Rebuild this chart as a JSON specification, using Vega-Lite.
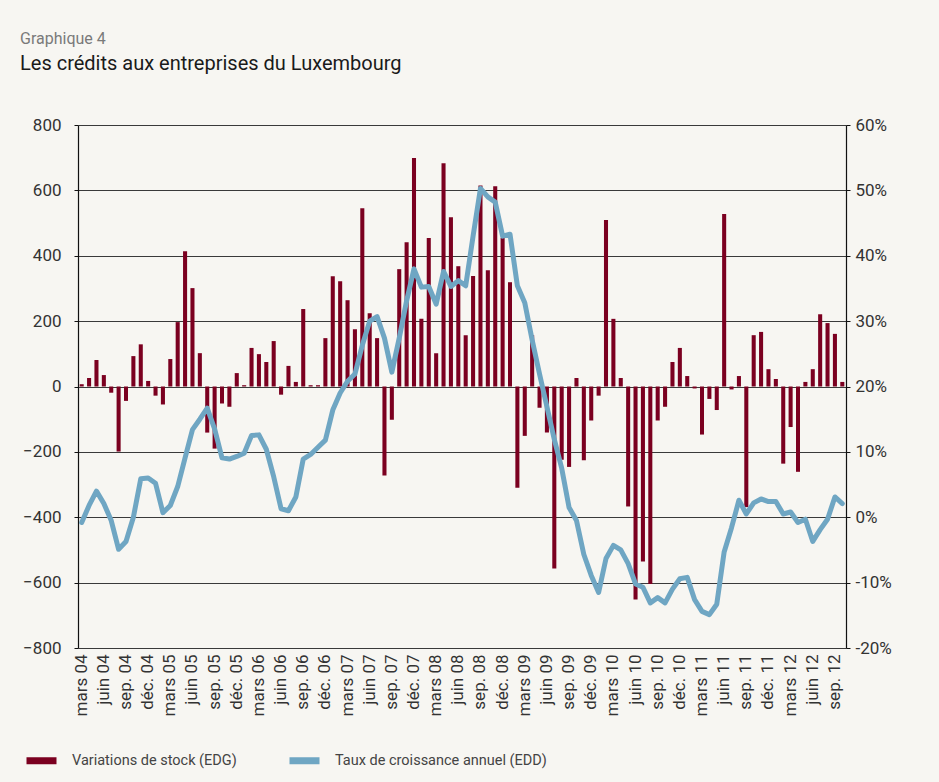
{
  "$schema": "https://vega.github.io/schema/vega-lite/v6.json",
  "width": 768,
  "height": 523,
  "autosize": {"type": "none"},
  "padding": {"left": 78, "top": 125, "right": 93, "bottom": 134},
  "background": "#f7f6f2",
  "title": {
    "text": "Graphique 4",
    "subtitle": "Les crédits aux entreprises du Luxembourg",
    "anchor": "start",
    "frame": "group",
    "dx": -58,
    "offset": 42,
    "font": "Roboto",
    "fontSize": 16,
    "fontWeight": "normal",
    "color": "#7a7a7a",
    "subtitleFont": "Roboto",
    "subtitleFontSize": 20,
    "subtitleColor": "#1a1a1a",
    "subtitlePadding": 7
  },
  "data": {
    "values": [
      {"m": "2004-03", "v": 7, "t": -0.8},
      {"m": "2004-04", "v": 26, "t": 1.8},
      {"m": "2004-05", "v": 81, "t": 4.0},
      {"m": "2004-06", "v": 35, "t": 2.1},
      {"m": "2004-07", "v": -19, "t": -0.5},
      {"m": "2004-08", "v": -199, "t": -4.9},
      {"m": "2004-09", "v": -44, "t": -3.7},
      {"m": "2004-10", "v": 93, "t": 0.0},
      {"m": "2004-11", "v": 129, "t": 5.9},
      {"m": "2004-12", "v": 17, "t": 6.0},
      {"m": "2005-01", "v": -28, "t": 5.2},
      {"m": "2005-02", "v": -55, "t": 0.7},
      {"m": "2005-03", "v": 84, "t": 1.8},
      {"m": "2005-04", "v": 197, "t": 4.7},
      {"m": "2005-05", "v": 414, "t": 9.1},
      {"m": "2005-06", "v": 301, "t": 13.4},
      {"m": "2005-07", "v": 102, "t": 15.0},
      {"m": "2005-08", "v": -141, "t": 16.7},
      {"m": "2005-09", "v": -190, "t": 13.5},
      {"m": "2005-10", "v": -52, "t": 9.1},
      {"m": "2005-11", "v": -62, "t": 8.9},
      {"m": "2005-12", "v": 41, "t": 9.3},
      {"m": "2006-01", "v": 4, "t": 9.8},
      {"m": "2006-02", "v": 118, "t": 12.5},
      {"m": "2006-03", "v": 99, "t": 12.6},
      {"m": "2006-04", "v": 75, "t": 10.4},
      {"m": "2006-05", "v": 139, "t": 6.2},
      {"m": "2006-06", "v": -25, "t": 1.3},
      {"m": "2006-07", "v": 63, "t": 1.0},
      {"m": "2006-08", "v": 14, "t": 3.1},
      {"m": "2006-09", "v": 237, "t": 8.9},
      {"m": "2006-10", "v": 4, "t": 9.6},
      {"m": "2006-11", "v": 4, "t": 10.7},
      {"m": "2006-12", "v": 148, "t": 11.8},
      {"m": "2007-01", "v": 337, "t": 16.4},
      {"m": "2007-02", "v": 322, "t": 19.0},
      {"m": "2007-03", "v": 264, "t": 20.8},
      {"m": "2007-04", "v": 175, "t": 21.9},
      {"m": "2007-05", "v": 545, "t": 26.3},
      {"m": "2007-06", "v": 224, "t": 30.0},
      {"m": "2007-07", "v": 148, "t": 30.7},
      {"m": "2007-08", "v": -272, "t": 27.4},
      {"m": "2007-09", "v": -102, "t": 22.2},
      {"m": "2007-10", "v": 359, "t": 27.4},
      {"m": "2007-11", "v": 441, "t": 33.1},
      {"m": "2007-12", "v": 699, "t": 38.0},
      {"m": "2008-01", "v": 207, "t": 35.2},
      {"m": "2008-02", "v": 454, "t": 35.3},
      {"m": "2008-03", "v": 102, "t": 32.6},
      {"m": "2008-04", "v": 683, "t": 37.6},
      {"m": "2008-05", "v": 518, "t": 35.3},
      {"m": "2008-06", "v": 368, "t": 36.2},
      {"m": "2008-07", "v": 157, "t": 35.4},
      {"m": "2008-08", "v": 338, "t": 43.0},
      {"m": "2008-09", "v": 615, "t": 50.3},
      {"m": "2008-10", "v": 356, "t": 49.0},
      {"m": "2008-11", "v": 613, "t": 48.2},
      {"m": "2008-12", "v": 455, "t": 43.0},
      {"m": "2009-01", "v": 319, "t": 43.3},
      {"m": "2009-02", "v": -310, "t": 35.4},
      {"m": "2009-03", "v": -151, "t": 32.8},
      {"m": "2009-04", "v": 157, "t": 27.1},
      {"m": "2009-05", "v": -65, "t": 21.9},
      {"m": "2009-06", "v": -141, "t": 16.9},
      {"m": "2009-07", "v": -557, "t": 11.9},
      {"m": "2009-08", "v": -224, "t": 7.5},
      {"m": "2009-09", "v": -246, "t": 1.5},
      {"m": "2009-10", "v": 26, "t": -0.5},
      {"m": "2009-11", "v": -226, "t": -5.7},
      {"m": "2009-12", "v": -104, "t": -8.9},
      {"m": "2010-01", "v": -28, "t": -11.5},
      {"m": "2010-02", "v": 509, "t": -6.3},
      {"m": "2010-03", "v": 207, "t": -4.3},
      {"m": "2010-04", "v": 26, "t": -5.0},
      {"m": "2010-05", "v": -367, "t": -7.1},
      {"m": "2010-06", "v": -652, "t": -10.2},
      {"m": "2010-07", "v": -535, "t": -10.7},
      {"m": "2010-08", "v": -604, "t": -13.1},
      {"m": "2010-09", "v": -104, "t": -12.3},
      {"m": "2010-10", "v": -62, "t": -13.1},
      {"m": "2010-11", "v": 75, "t": -11.0},
      {"m": "2010-12", "v": 118, "t": -9.4},
      {"m": "2011-01", "v": 32, "t": -9.2},
      {"m": "2011-02", "v": -6, "t": -12.6},
      {"m": "2011-03", "v": -147, "t": -14.4},
      {"m": "2011-04", "v": -38, "t": -14.9},
      {"m": "2011-05", "v": -72, "t": -13.3},
      {"m": "2011-06", "v": 528, "t": -5.3},
      {"m": "2011-07", "v": -9, "t": -1.6},
      {"m": "2011-08", "v": 32, "t": 2.6},
      {"m": "2011-09", "v": -369, "t": 0.5},
      {"m": "2011-10", "v": 157, "t": 2.2},
      {"m": "2011-11", "v": 167, "t": 2.8},
      {"m": "2011-12", "v": 53, "t": 2.4},
      {"m": "2012-01", "v": 23, "t": 2.4},
      {"m": "2012-02", "v": -236, "t": 0.5},
      {"m": "2012-03", "v": -124, "t": 0.8},
      {"m": "2012-04", "v": -261, "t": -0.8},
      {"m": "2012-05", "v": 14, "t": -0.3},
      {"m": "2012-06", "v": 53, "t": -3.7},
      {"m": "2012-07", "v": 221, "t": -1.9},
      {"m": "2012-08", "v": 194, "t": -0.3},
      {"m": "2012-09", "v": 161, "t": 3.1},
      {"m": "2012-10", "v": 14, "t": 2.1}
    ]
  },
  "encoding": {
    "x": {
      "field": "m",
      "type": "ordinal",
      "scale": {"type": "band", "paddingInner": 0.45, "paddingOuter": 0.225},
      "axis": {
        "title": null,
        "values": ["2004-03","2004-06","2004-09","2004-12","2005-03","2005-06","2005-09","2005-12","2006-03","2006-06","2006-09","2006-12","2007-03","2007-06","2007-09","2007-12","2008-03","2008-06","2008-09","2008-12","2009-03","2009-06","2009-09","2009-12","2010-03","2010-06","2010-09","2010-12","2011-03","2011-06","2011-09","2011-12","2012-03","2012-06","2012-09"],
        "labelExpr": "(slice(datum.value,5)=='03'?'mars':slice(datum.value,5)=='06'?'juin':slice(datum.value,5)=='09'?'sep.':'déc.') + ' ' + slice(datum.value,2,4)",
        "labelAngle": -90,
        "labelAlign": "right",
        "labelBaseline": "middle",
        "labelFont": "Roboto",
        "labelFontSize": 17,
        "labelColor": "#333333",
        "labelPadding": 6,
        "labelOverlap": false,
        "ticks": false,
        "domain": false,
        "grid": false
      }
    }
  },
  "layer": [
    {
      "mark": {"type": "bar"},
      "encoding": {
        "y": {
          "field": "v",
          "type": "quantitative",
          "scale": {"domain": [-800, 800], "nice": false},
          "axis": {
            "title": null,
            "values": [-800, -600, -400, -200, 0, 200, 400, 600, 800],
            "grid": true,
            "gridColor": "#3a3a3a",
            "gridWidth": 1,
            "gridOpacity": 1,
            "domain": true,
            "domainColor": "#111111",
            "domainWidth": 1.2,
            "tickColor": "#111111",
            "tickSize": 4,
            "labelFont": "Roboto",
            "labelFontSize": 17,
            "labelColor": "#333333",
            "labelPadding": 13
          }
        },
        "color": {
          "datum": "Variations de stock (EDG)",
          "type": "nominal",
          "scale": {
            "domain": ["Variations de stock (EDG)", "Taux de croissance annuel (EDD)"],
            "range": ["#7b0020", "#6fa6c3"]
          },
          "legend": {
            "title": null,
            "orient": "none",
            "legendX": -55,
            "legendY": 617,
            "direction": "horizontal",
            "symbolType": "stroke",
            "symbolSize": 900,
            "symbolStrokeWidth": 7,
            "labelFont": "Roboto",
            "labelFontSize": 14.5,
            "labelColor": "#444444",
            "labelLimit": 400,
            "columnPadding": 38,
            "labelOffset": 12
          }
        }
      }
    },
    {
      "mark": {"type": "line", "strokeWidth": 5, "strokeCap": "round", "strokeJoin": "round"},
      "encoding": {
        "y": {
          "field": "t",
          "type": "quantitative",
          "scale": {"domain": [-20, 60], "nice": false},
          "axis": {
            "title": null,
            "orient": "right",
            "values": [-20, -10, 0, 10, 20, 30, 40, 50, 60],
            "labelExpr": "datum.value + '%'",
            "grid": false,
            "domain": true,
            "domainColor": "#111111",
            "domainWidth": 1.2,
            "tickColor": "#111111",
            "tickSize": 4,
            "labelFont": "Roboto",
            "labelFontSize": 17,
            "labelColor": "#333333",
            "labelPadding": 5
          }
        },
        "color": {"datum": "Taux de croissance annuel (EDD)", "type": "nominal"}
      }
    }
  ],
  "resolve": {"scale": {"y": "independent"}},
  "config": {
    "view": {"stroke": null},
    "font": "Roboto"
  }
}
